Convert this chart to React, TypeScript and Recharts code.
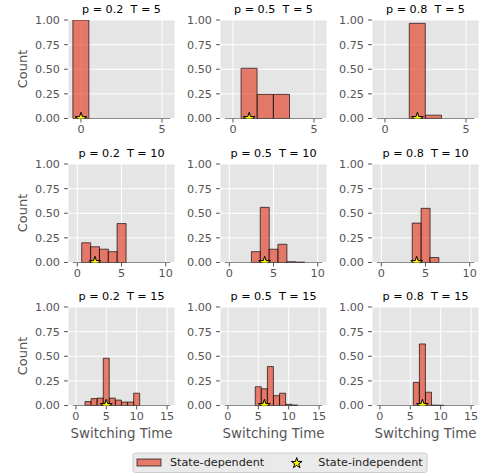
import React from "react";
import {
  ComposedChart,
  Bar,
  Scatter,
  XAxis,
  YAxis,
  CartesianGrid,
  ReferenceLine,
} from "recharts";

const FONT = "'DejaVu Sans', sans-serif";
const BAR_COLOR = "#E24A33";

const T_VALUES = [5, 10, 15];
const P_VALUES = [0.2, 0.5, 0.8];
const Y_TICKS = [0, 0.25, 0.5, 0.75, 1];
const X_TICKS_T5 = [0, 5];
const X_TICKS_T10 = [0, 5, 10];
const X_TICKS_T15 = [0, 5, 10, 15];

// share of runs per switching time (bins 0..T)
const HIST_T5_P02 = [1, 0, 0, 0, 0, 0];
const HIST_T5_P05 = [0, 0.51, 0.245, 0.245, 0, 0];
const HIST_T5_P08 = [0, 0, 0.966, 0.034, 0, 0];
const HIST_T10_P02 = [0, 0.2, 0.16, 0.135, 0.11, 0.395, 0, 0, 0, 0, 0];
const HIST_T10_P05 = [0, 0, 0, 0.11, 0.56, 0.135, 0.185, 0.008, 0.004, 0, 0];
const HIST_T10_P08 = [0, 0, 0, 0, 0.4, 0.55, 0.05, 0, 0, 0, 0];
const HIST_T15_P02 = [0, 0, 0.04, 0.07, 0.075, 0.48, 0.075, 0.055, 0.035, 0.035, 0.125, 0, 0, 0, 0, 0];
const HIST_T15_P05 = [0, 0, 0, 0, 0, 0.19, 0.17, 0.395, 0.1, 0.125, 0.012, 0.005, 0, 0, 0, 0];
const HIST_T15_P08 = [0, 0, 0, 0, 0, 0, 0.235, 0.625, 0.135, 0.004, 0.003, 0, 0, 0, 0, 0];

// state-independent switching time
const STAR_T5 = [0, 1, 2];
const STAR_T10 = [2, 4, 4];
const STAR_T15 = [5, 6, 7];

const HISTS = [
  [HIST_T5_P02, HIST_T5_P05, HIST_T5_P08],
  [HIST_T10_P02, HIST_T10_P05, HIST_T10_P08],
  [HIST_T15_P02, HIST_T15_P05, HIST_T15_P08],
];
const STARS = [STAR_T5, STAR_T10, STAR_T15];
const X_TICKS = [X_TICKS_T5, X_TICKS_T10, X_TICKS_T15];

const COL_LEFT = [68, 220, 372];
const ROW_TOP = [20, 163.5, 306.5];
const PLOT_W = 107;
const PLOT_H = 98.5;
const YAW = 50;
const XAH = 26;
const MT = 10;
const MR = 2;

function starPoints(cx: number, cy: number, R: number) {
  const r = R * 0.382;
  const pts: string[] = [];
  for (let i = 0; i < 10; i++) {
    const rad = i % 2 === 0 ? R : r;
    const a = -Math.PI / 2 + (i * Math.PI) / 5;
    pts.push(`${cx + rad * Math.cos(a)},${cy + rad * Math.sin(a)}`);
  }
  return pts.join(" ");
}

const StarShape = (props: any) => {
  const { cx, cy } = props;
  if (cx == null || cy == null) return null;
  return <polygon points={starPoints(cx, cy, 6.2)} fill="#FFFF00" stroke="#000" strokeWidth={1} />;
};

function Panel({ row, col }: { row: number; col: number }) {
  const T = T_VALUES[row];
  const p = P_VALUES[col];
  const values = HISTS[row][col];
  const data = values.map((v, i) => ({ x: i, v }));
  const pad = 0.5 + 0.05 * (T + 1);
  const left = COL_LEFT[col];
  const top = ROW_TOP[row];
  const tickStyle = { fill: "#555", fontSize: 11.2, fontFamily: FONT };

  return (
    <>
      <div
        style={{
          position: "absolute",
          left,
          width: PLOT_W,
          top: top - 18,
          height: 16,
          lineHeight: "16px",
          textAlign: "center",
          fontSize: 11.2,
          fontFamily: FONT,
          color: "#000",
          whiteSpace: "pre",
        }}
      >
        {`p = ${p}  T = ${T}`}
      </div>
      <div style={{ position: "absolute", left: left - YAW, top: top - MT }}>
        <ComposedChart
          width={YAW + PLOT_W + MR}
          height={MT + PLOT_H + XAH}
          data={data}
          margin={{ top: MT, right: MR, bottom: 0, left: 0 }}
          barCategoryGap={0}
          barGap={0}
        >
          <CartesianGrid fill="#E5E5E5" stroke="#FFFFFF" strokeWidth={1} />
          <XAxis
            type="number"
            dataKey="x"
            domain={[-pad, T + pad]}
            ticks={X_TICKS[row]}
            interval={0}
            allowDataOverflow
            axisLine={false}
            tickLine={{ stroke: "#555" }}
            tickSize={4}
            tickMargin={3}
            height={XAH}
            tick={tickStyle}
          />
          <YAxis
            type="number"
            domain={[0, 1]}
            ticks={Y_TICKS}
            interval={0}
            allowDataOverflow
            axisLine={false}
            tickLine={{ stroke: "#555" }}
            tickSize={4}
            tickMargin={4}
            width={YAW}
            tick={tickStyle}
            tickFormatter={(v: number) => v.toFixed(2)}
          />
          <ReferenceLine
            segment={[
              { x: -0.5, y: 0 },
              { x: T + 0.5, y: 0 },
            ]}
            stroke="#000"
            strokeOpacity={0.45}
          />
          <Bar
            dataKey="v"
            fill={BAR_COLOR}
            fillOpacity={0.7}
            stroke="#000"
            strokeOpacity={0.65}
            strokeWidth={1}
            isAnimationActive={false}
          />
          <Scatter
            data={[{ x: STARS[row][col], v: 0 }]}
            dataKey="v"
            shape={StarShape}
            isAnimationActive={false}
          />
        </ComposedChart>
      </div>
      {col === 0 && (
        <div
          style={{
            position: "absolute",
            left: 23 - 30,
            top: top + PLOT_H / 2 - 9,
            width: 60,
            height: 18,
            lineHeight: "18px",
            textAlign: "center",
            transform: "rotate(-90deg)",
            fontSize: 13,
            fontFamily: FONT,
            color: "#555",
          }}
        >
          Count
        </div>
      )}
      {row === 2 && (
        <div
          style={{
            position: "absolute",
            left: left - 20,
            width: PLOT_W + 40,
            top: 425,
            height: 18,
            lineHeight: "18px",
            textAlign: "center",
            fontSize: 13.4,
            fontFamily: FONT,
            color: "#555",
            whiteSpace: "nowrap",
          }}
        >
          Switching Time
        </div>
      )}
    </>
  );
}

function Legend() {
  return (
    <svg
      width={300}
      height={26}
      style={{ position: "absolute", left: 130, top: 450 }}
    >
      <rect x={3} y={3} width={294} height={19.5} rx={2.5} fill="#EAEAEA" stroke="#CCCCCC" />
      <rect x={7} y={9} width={24} height={7} fill={BAR_COLOR} fillOpacity={0.7} stroke="#000" strokeOpacity={0.65} />
      <text x={40} y={12.8} dominantBaseline="central" fontSize={11.2} fontFamily={FONT} fill="#222">
        State-dependent
      </text>
      <polygon points={starPoints(166.7, 13.2, 5.6)} fill="#FFFF00" stroke="#000" strokeWidth={1} />
      <text x={188.3} y={12.8} dominantBaseline="central" fontSize={11.2} fontFamily={FONT} fill="#222">
        State-independent
      </text>
    </svg>
  );
}

export default function App() {
  return (
    <div
      style={{
        position: "absolute",
        left: 0,
        top: 0,
        width: 482,
        height: 476,
        background: "#fff",
        overflow: "hidden",
      }}
    >
      {[0, 1, 2].map((row) =>
        [0, 1, 2].map((col) => <Panel key={`${row}-${col}`} row={row} col={col} />)
      )}
      <Legend />
    </div>
  );
}
